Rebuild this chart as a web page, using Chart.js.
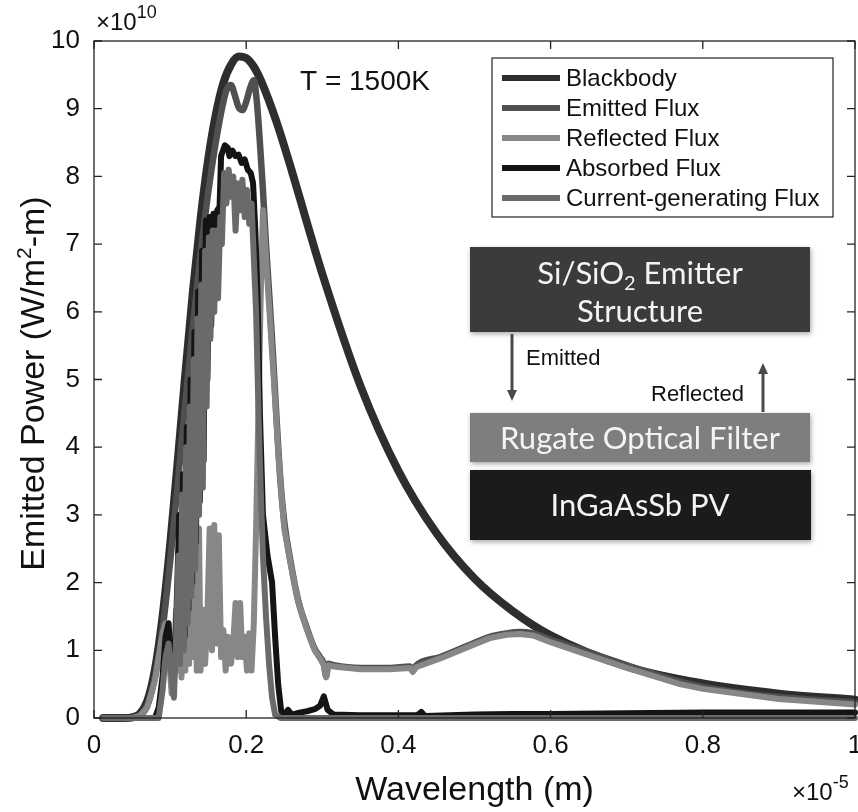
<!DOCTYPE html>
<html>
<head>
<meta charset="utf-8">
<title>Emitted power spectrum, T = 1500K</title>
<script src="https://cdn.jsdelivr.net/npm/chart.js@4.4.1/dist/chart.umd.min.js"></script>
<style>
  html, body { margin: 0; padding: 0; background: #fff; }
  #wrap { position: relative; width: 858px; height: 812px; }
</style>
</head>
<body>
<div id="wrap"><canvas id="spectrum" width="858" height="812"></canvas></div>
<script>
// Wavelength in units of 1e-5 m, power in units of 1e10 W/m2-m
var xTickLabels = ['0', '0.2', '0.4', '0.6', '0.8', '1'];
var yTickLabels = ['0', '1', '2', '3', '4', '5', '6', '7', '8', '9', '10'];
var seriesNames = ['Blackbody', 'Emitted Flux', 'Reflected Flux', 'Absorbed Flux', 'Current-generating Flux'];

var bbX = [0.012,0.04,0.05,0.06,0.07,0.08,0.09,0.10,0.11,0.12,0.13,0.14,0.15,0.16,0.17,0.18,0.19,0.20,0.21,0.22,0.24,0.26,0.28,0.30,0.35,0.40,0.45,0.50,0.55,0.60,0.70,0.80,0.90,1.00];
var bbY = [0,0,0.01,0.06,0.25,0.71,1.49,2.55,3.79,5.08,6.30,7.37,8.25,8.91,9.38,9.65,9.77,9.75,9.62,9.40,8.80,8.08,7.31,6.56,4.91,3.65,2.73,2.06,1.58,1.22,0.76,0.51,0.36,0.27];

var emX = [0.012,0.05,0.06,0.07,0.08,0.09,0.10,0.11,0.12,0.13,0.14,0.15,0.16,0.17,0.175,0.18,0.185,0.19,0.195,0.20,0.205,0.21,0.214,0.218,0.222,0.226,0.23,0.235,0.24,0.245,0.25,0.258,0.268,0.279,0.29,0.297,0.302,0.305,0.308,0.315,0.35,0.389,0.415,0.419,0.423,0.455,0.498,0.52,0.542,0.56,0.577,0.60,0.65,0.70,0.77,0.80,0.90,1.00];
var emY = [0,0,0.03,0.18,0.6,1.3,2.3,3.45,4.65,5.8,6.85,7.75,8.5,9.1,9.3,9.35,9.2,9.02,8.98,9.1,9.3,9.42,9.1,8.5,7.8,7.0,6.3,5.4,4.4,3.5,2.9,2.33,1.75,1.35,1.02,0.9,0.8,0.62,0.8,0.78,0.74,0.74,0.76,0.7,0.77,0.9,1.1,1.2,1.25,1.27,1.25,1.16,0.97,0.78,0.54,0.46,0.31,0.23];

var rfX = [0.012,0.05,0.06,0.07,0.08,0.085,0.09,0.094,0.098,0.102,0.105,0.108,0.110,0.113,0.115,0.118,0.120,0.123,0.125,0.128,0.130,0.133,0.135,0.138,0.140,0.143,0.146,0.149,0.152,0.155,0.158,0.161,0.164,0.167,0.170,0.173,0.176,0.180,0.183,0.186,0.189,0.192,0.195,0.198,0.201,0.204,0.207,0.210,0.213,0.216,0.219,0.222,0.226,0.230,0.234,0.238,0.242,0.246,0.250,0.258,0.268,0.279,0.29,0.297,0.302,0.305,0.308,0.315,0.35,0.389,0.415,0.419,0.423,0.455,0.498,0.52,0.542,0.56,0.577,0.60,0.65,0.70,0.77,0.80,0.90,1.00];
var rfY = [0,0,0.03,0.16,0.55,0.9,1.25,1.4,1.0,0.36,0.9,1.6,0.7,2.6,0.6,3.0,0.7,3.2,0.8,3.0,0.9,3.3,0.7,2.8,0.7,1.6,0.8,1.5,2.8,1.0,2.85,1.1,2.7,0.9,1.3,0.7,1.2,0.8,1.1,1.7,0.9,1.7,0.9,1.2,0.7,1.25,0.7,1.4,2.8,4.5,6.2,7.5,6.8,6.1,5.4,4.7,3.95,3.35,2.8,2.3,1.73,1.33,1.0,0.88,0.78,0.6,0.78,0.76,0.72,0.72,0.74,0.68,0.75,0.88,1.08,1.18,1.23,1.24,1.22,1.12,0.93,0.74,0.5,0.43,0.28,0.2];

var abX = [0.012,0.08,0.085,0.09,0.094,0.098,0.101,0.104,0.107,0.110,0.112,0.114,0.117,0.119,0.122,0.124,0.127,0.129,0.132,0.134,0.137,0.139,0.142,0.144,0.147,0.149,0.152,0.154,0.157,0.159,0.162,0.165,0.167,0.172,0.176,0.178,0.182,0.186,0.190,0.194,0.198,0.202,0.206,0.209,0.212,0.215,0.218,0.222,0.228,0.234,0.238,0.242,0.246,0.250,0.255,0.260,0.270,0.280,0.290,0.297,0.302,0.307,0.315,0.350,0.400,0.425,0.430,0.435,0.500,0.550,0.600,0.700,0.800,0.900,1.000];
var abY = [0,0,0.15,0.6,1.2,1.4,0.9,0.5,1.0,2.2,3.0,1.0,3.6,1.2,4.3,1.6,5.0,2.0,5.7,2.6,6.3,3.2,6.9,3.8,7.35,5.0,7.4,5.8,7.45,6.2,7.5,7.55,8.3,8.46,8.42,8.3,8.38,8.3,8.32,8.2,8.25,8.1,8.05,7.9,7.2,6.2,4.5,3.0,2.4,2.0,1.2,0.5,0.1,0.05,0.12,0.05,0.08,0.1,0.13,0.18,0.32,0.12,0.05,0.04,0.04,0.04,0.09,0.03,0.05,0.06,0.06,0.07,0.08,0.08,0.08];

var cgX = [0.012,0.085,0.09,0.094,0.098,0.101,0.105,0.108,0.111,0.113,0.116,0.118,0.121,0.123,0.126,0.128,0.131,0.133,0.136,0.138,0.141,0.143,0.146,0.148,0.151,0.153,0.156,0.158,0.161,0.163,0.166,0.168,0.171,0.174,0.177,0.18,0.183,0.186,0.189,0.192,0.195,0.198,0.201,0.204,0.207,0.21,0.213,0.216,0.219,0.222,0.226,0.23,0.234,0.238,0.245,1.0];
var cgY = [0,0,0.4,0.9,1.1,0.7,0.3,1.2,2.4,0.8,3.3,1.0,4.0,1.4,4.6,1.8,5.3,2.2,5.9,3.0,6.4,3.4,6.9,4.6,7.1,5.6,7.2,6.0,7.2,6.2,7.4,7.0,8.05,7.6,8.1,7.7,8.0,7.2,7.9,7.5,7.95,7.4,7.8,7.3,7.6,6.8,6.0,4.6,3.4,2.4,1.5,0.8,0.3,0.05,0,0];

function pts(xs, ys) {
  if (xs.length !== ys.length) console.warn('length mismatch', xs.length, ys.length);
  return xs.map(function(x, i) { return { x: x, y: ys[i] }; });
}

var SANS = "'Liberation Sans', Arial, Helvetica, sans-serif";
var BOXFONT = "Lato, 'Open Sans', sans-serif";

function lineSet(label, xs, ys, color, width, order, smooth) {
  return {
    label: label,
    data: pts(xs, ys),
    borderColor: color,
    backgroundColor: color,
    borderWidth: width,
    pointRadius: 0,
    fill: false,
    clip: false,
    order: order,
    borderJoinStyle: 'round',
    borderCapStyle: 'round',
    cubicInterpolationMode: smooth ? 'monotone' : 'default',
    tension: 0
  };
}

// text with one raised or lowered small run, e.g. m^2 or SiO_2
function richText(ctx, parts, x, y, align) {
  var total = 0;
  parts.forEach(function(p) { ctx.font = p.font; total += ctx.measureText(p.t).width; });
  var cx = align === 'center' ? x - total / 2 : x;
  ctx.textAlign = 'left';
  parts.forEach(function(p) {
    ctx.font = p.font;
    ctx.fillText(p.t, cx, y + (p.dy || 0));
    cx += ctx.measureText(p.t).width;
  });
}

function arrow(ctx, x, y0, y1, color) {
  var dir = y1 > y0 ? 1 : -1;
  ctx.strokeStyle = color; ctx.fillStyle = color; ctx.lineWidth = 3;
  ctx.beginPath(); ctx.moveTo(x, y0); ctx.lineTo(x, y1 - dir * 8); ctx.stroke();
  ctx.beginPath();
  ctx.moveTo(x, y1); ctx.lineTo(x - 5, y1 - dir * 11); ctx.lineTo(x + 5, y1 - dir * 11);
  ctx.closePath(); ctx.fill();
}

function block(ctx, x, y, w, h, fill) {
  ctx.save();
  ctx.shadowColor = 'rgba(0,0,0,0.35)';
  ctx.shadowBlur = 5;
  ctx.shadowOffsetX = 1; ctx.shadowOffsetY = 2;
  ctx.fillStyle = fill;
  ctx.fillRect(x, y, w, h);
  ctx.restore();
}

var decorations = {
  id: 'decorations',
  afterDatasetsDraw: function(chart) {
    var ctx = chart.ctx, a = chart.chartArea, xs = chart.scales.x, ys = chart.scales.y;
    ctx.save();
    ctx.strokeStyle = '#222';
    ctx.lineWidth = 1.3;
    ctx.strokeRect(a.left, a.top, a.right - a.left, a.bottom - a.top);
    // inward ticks on every side of the box
    ctx.beginPath();
    xs.ticks.forEach(function(t) {
      var px = xs.getPixelForValue(t.value);
      ctx.moveTo(px, a.bottom); ctx.lineTo(px, a.bottom - 8);
      ctx.moveTo(px, a.top); ctx.lineTo(px, a.top + 8);
    });
    ys.ticks.forEach(function(t) {
      var py = ys.getPixelForValue(t.value);
      ctx.moveTo(a.left, py); ctx.lineTo(a.left + 8, py);
      ctx.moveTo(a.right, py); ctx.lineTo(a.right - 8, py);
    });
    ctx.stroke();
    ctx.restore();
  },
  afterDraw: function(chart) {
    var ctx = chart.ctx, a = chart.chartArea;
    ctx.save();
    ctx.fillStyle = '#111';
    ctx.textBaseline = 'alphabetic';

    // axis titles
    ctx.save();
    ctx.translate(44, (a.top + a.bottom) / 2 + 4);
    ctx.rotate(-Math.PI / 2);
    richText(ctx, [
      { t: 'Emitted Power (W/m', font: '34px ' + SANS },
      { t: '2', font: '21px ' + SANS, dy: -13 },
      { t: '-m)', font: '34px ' + SANS }
    ], 0, 0, 'center');
    ctx.restore();

    ctx.font = '34px ' + SANS;
    ctx.textAlign = 'center';
    ctx.fillText('Wavelength (m)', (a.left + a.right) / 2, 800);

    // exponent multipliers
    richText(ctx, [
      { t: '\u00d710', font: '24px ' + SANS },
      { t: '-5', font: '18px ' + SANS, dy: -12 }
    ], 792, 800, 'left');
    richText(ctx, [
      { t: '\u00d710', font: '24px ' + SANS },
      { t: '10', font: '18px ' + SANS, dy: -12 }
    ], 96, 30, 'left');

    // temperature label
    ctx.font = '28px ' + SANS;
    ctx.textAlign = 'left';
    ctx.fillText('T = 1500K', 300, 90);

    // legend
    var lx = 492, ly = 58, lw = 341, lh = 159;
    ctx.fillStyle = '#fff';
    ctx.fillRect(lx, ly, lw, lh);
    ctx.strokeStyle = '#222';
    ctx.lineWidth = 1.2;
    ctx.strokeRect(lx, ly, lw, lh);
    chart.data.datasets.forEach(function(ds, i) {
      var ry = 78 + i * 30;
      ctx.strokeStyle = ds.borderColor;
      ctx.lineWidth = 6;
      ctx.beginPath(); ctx.moveTo(502, ry); ctx.lineTo(560, ry); ctx.stroke();
      ctx.fillStyle = '#111';
      ctx.font = '24px ' + SANS;
      ctx.textAlign = 'left';
      ctx.textBaseline = 'middle';
      ctx.fillText(ds.label, 566, ry + 1);
    });
    ctx.textBaseline = 'alphabetic';

    // emitter / filter / PV stack
    block(ctx, 470, 247, 340, 85, '#3b3b3b');
    block(ctx, 470, 413, 340, 49, '#7e7e7e');
    block(ctx, 470, 470, 341, 70, '#1b1b1b');
    ctx.fillStyle = '#f4f4f4';
    richText(ctx, [
      { t: 'Si/SiO', font: '31px ' + BOXFONT },
      { t: '2', font: '20px ' + BOXFONT, dy: 6 },
      { t: ' Emitter', font: '31px ' + BOXFONT }
    ], 640, 284, 'center');
    ctx.font = '31px ' + BOXFONT;
    ctx.textAlign = 'center';
    ctx.fillText('Structure', 640, 322);
    ctx.fillText('Rugate Optical Filter', 640, 449);
    ctx.fillText('InGaAsSb PV', 640, 516);

    arrow(ctx, 512, 334, 401, '#4a4a4a');
    arrow(ctx, 763, 412, 363, '#4a4a4a');
    ctx.fillStyle = '#111';
    ctx.font = '22px ' + SANS;
    ctx.textAlign = 'left';
    ctx.fillText('Emitted', 526, 365);
    ctx.fillText('Reflected', 651, 401);
    ctx.restore();
  }
};

new Chart(document.getElementById('spectrum'), {
  type: 'line',
  data: {
    datasets: [
      lineSet(seriesNames[0], bbX, bbY, '#2e2e2e', 8, 5, true),
      lineSet(seriesNames[1], emX, emY, '#505050', 6.5, 4, true),
      lineSet(seriesNames[2], rfX, rfY, '#878787', 6, 3, false),
      lineSet(seriesNames[3], abX, abY, '#141414', 6, 2, false),
      lineSet(seriesNames[4], cgX, cgY, '#6a6a6a', 6, 1, false)
    ]
  },
  options: {
    responsive: false,
    animation: false,
    devicePixelRatio: 1,
    layout: { padding: { top: 41, right: 3, left: 0, bottom: 0 } },
    plugins: { legend: { display: false }, tooltip: { enabled: false } },
    scales: {
      x: {
        type: 'linear', min: 0, max: 1,
        grid: { display: false, drawTicks: false },
        border: { display: false },
        afterFit: function(s) { s.height = 94; s.paddingLeft = 0; s.paddingRight = 0; },
        afterBuildTicks: function(s) { s.ticks = xTickLabels.map(function(l) { return { value: parseFloat(l) }; }); },
        ticks: {
          autoSkip: false, maxRotation: 0, padding: 12, color: '#111',
          font: { size: 26, family: SANS },
          callback: function(v, i) { return xTickLabels[i]; }
        }
      },
      y: {
        type: 'linear', min: 0, max: 10,
        grid: { display: false, drawTicks: false },
        border: { display: false },
        afterFit: function(s) { s.width = 94; s.paddingTop = 0; s.paddingBottom = 0; },
        afterBuildTicks: function(s) { s.ticks = yTickLabels.map(function(l) { return { value: parseFloat(l) }; }); },
        ticks: {
          autoSkip: false, padding: 14, color: '#111',
          font: { size: 26, family: SANS },
          callback: function(v, i) { return yTickLabels[i]; }
        }
      }
    }
  },
  plugins: [decorations]
});
</script>
</body>
</html>
